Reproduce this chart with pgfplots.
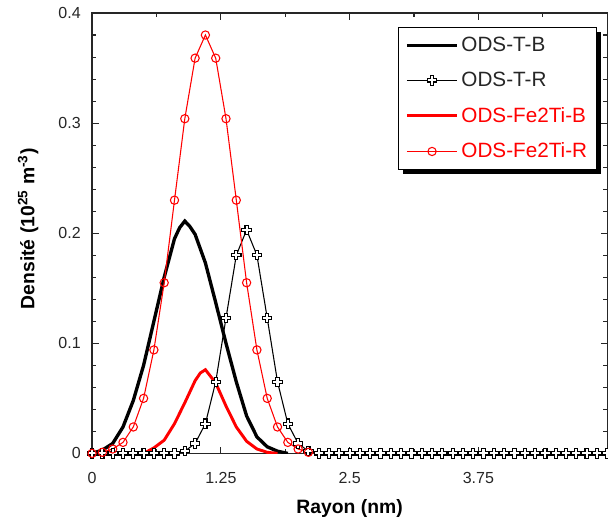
\documentclass[border=0pt]{standalone}
\usepackage{pgfplots}
\pgfplotsset{compat=1.18}
\usepackage{fontspec}
\setmainfont{Liberation Sans}

\pgfdeclareplotmark{gcross}{%
 \pgfpathmoveto{\pgfqpoint{-1.2pt}{3.5pt}}%
 \pgfpathlineto{\pgfqpoint{1.2pt}{3.5pt}}%
 \pgfpathlineto{\pgfqpoint{1.2pt}{1.2pt}}%
 \pgfpathlineto{\pgfqpoint{3.5pt}{1.2pt}}%
 \pgfpathlineto{\pgfqpoint{3.5pt}{-1.2pt}}%
 \pgfpathlineto{\pgfqpoint{1.2pt}{-1.2pt}}%
 \pgfpathlineto{\pgfqpoint{1.2pt}{-3.5pt}}%
 \pgfpathlineto{\pgfqpoint{-1.2pt}{-3.5pt}}%
 \pgfpathlineto{\pgfqpoint{-1.2pt}{-1.2pt}}%
 \pgfpathlineto{\pgfqpoint{-3.5pt}{-1.2pt}}%
 \pgfpathlineto{\pgfqpoint{-3.5pt}{1.2pt}}%
 \pgfpathlineto{\pgfqpoint{-1.2pt}{1.2pt}}%
 \pgfpathclose
 \pgfusepathqfillstroke}

\pgfplotstableread{
x y
0 0
0.1 0.003
0.2 0.009
0.3 0.024
0.4 0.048
0.5 0.080
0.6 0.120
0.7 0.160
0.8 0.195
0.85 0.205
0.9 0.211
0.95 0.206
1.0 0.199
1.1 0.173
1.2 0.137
1.3 0.100
1.4 0.065
1.5 0.034
1.6 0.015
1.7 0.006
1.8 0.002
1.9 0
}\TB

\pgfplotstableread{
x y
0 0
0.1 0
0.2 0
0.3 0
0.4 0
0.5 0
0.6 0
0.7 0
0.8 0
0.9 0.002
1.0 0.009
1.1 0.027
1.2 0.065
1.3 0.123
1.4 0.180
1.5 0.203
1.6 0.180
1.7 0.123
1.8 0.065
1.9 0.027
2.0 0.009
2.1 0.002
2.2 0
2.3 0
2.4 0
2.5 0
2.6 0
2.7 0
2.8 0
2.9 0
3.0 0
3.1 0
3.2 0
3.3 0
3.4 0
3.5 0
3.6 0
3.7 0
3.8 0
3.9 0
4.0 0
4.1 0
4.2 0
4.3 0
4.4 0
4.5 0
4.6 0
4.7 0
4.8 0
4.9 0
5.0 0
}\TR

\pgfplotstableread{
x y
0 0
0.5 0
0.6 0.005
0.7 0.012
0.8 0.027
0.9 0.046
1.0 0.066
1.05 0.073
1.1 0.076
1.2 0.064
1.3 0.043
1.4 0.024
1.5 0.011
1.6 0.004
1.7 0.001
1.8 0
}\FB

\pgfplotstableread{
x y
0 0
0.1 0.001
0.2 0.004
0.3 0.010
0.4 0.024
0.5 0.050
0.6 0.094
0.7 0.155
0.8 0.230
0.9 0.304
1.0 0.359
1.1 0.380
1.2 0.359
1.3 0.304
1.4 0.230
1.5 0.155
1.6 0.094
1.7 0.050
1.8 0.024
1.9 0.010
2.0 0.004
2.1 0.001
2.2 0
2.3 0
2.4 0
2.5 0
2.6 0
2.7 0
2.8 0
2.9 0
3.0 0
3.1 0
3.2 0
3.3 0
3.4 0
3.5 0
3.6 0
3.7 0
3.8 0
3.9 0
4.0 0
4.1 0
4.2 0
4.3 0
4.4 0
4.5 0
4.6 0
4.7 0
4.8 0
4.9 0
5.0 0
}\FR

\begin{document}
\begin{tikzpicture}
\useasboundingbox (-69pt,-52pt) rectangle (386.6pt,339.75pt);
\begin{axis}[
  at={(0,0)}, anchor=south west,
  scale only axis, width=386pt, height=330pt,
  xmin=0, xmax=5, ymin=0, ymax=0.4,
  xtick={0,1.25,2.5,3.75,5},
  xticklabels={0,1.25,2.5,3.75,{}},
  ytick={0,0.1,0.2,0.3,0.4},
  yticklabels={0,0.1,0.2,0.3,0.4},
  minor x tick num=1, minor y tick num=4,
  tick align=inside,
  major tick length=5pt, minor tick length=3pt,
  axis line style={line width=0.9pt, black!85},
  tick style={line width=0.8pt, black!85},
  /pgf/number format/assume math mode=true,
  ticklabel style={font=\fontsize{12}{14}\selectfont, text=black!85},
  xticklabel style={anchor=north, yshift=-11pt},
  yticklabel style={anchor=east, xshift=-5pt},
  xlabel={\textbf{Rayon (nm)}},
  ylabel={\textbf{Densité (10\textsuperscript{25} m\textsuperscript{-3})}},
  label style={font=\fontsize{14.5}{17}\selectfont},
  xlabel style={at={(axis description cs:0.5,-0.124)}, anchor=center},
  ylabel style={at={(axis description cs:-0.1243,0.51)}, anchor=center},
  legend cell align=left,
  legend style={name=L, at={(axis description cs:0.594,0.968)}, anchor=north west,
    draw=black, line width=0.9pt, fill=white,
    font=\fontsize{15.5}{17}\selectfont,
    inner xsep=5pt, inner ysep=5pt, row sep=10pt,
    /tikz/every even column/.append style={column sep=6pt}},
  legend image code/.code={\draw[#1, mark indices={2}] plot coordinates {(0cm,0cm) (0.66cm,0cm) (1.32cm,0cm)};},
]
\addplot[black, line width=2.5pt, no markers] table[x=x,y=y] {\TB};
\addlegendentry{\textcolor{black!85}{ODS-T-B}}
\addplot[black, line width=0.8pt, mark=gcross, mark options={fill=white, line width=0.8pt, solid}] table[x=x,y=y] {\TR};
\addlegendentry{\textcolor{black!85}{ODS-T-R}}
\addplot[red, line width=2.2pt, no markers] table[x=x,y=y] {\FB};
\addlegendentry{\textcolor{red}{ODS-Fe2Ti-B}}
\addplot[red, line width=0.8pt, mark=o, mark size=3.1pt, mark indices={1,...,22}, mark options={line width=0.8pt, solid}] table[x=x,y=y] {\FR};
\addlegendentry{\textcolor{red}{ODS-Fe2Ti-R}}
\end{axis}
\fill[black] ([yshift=-3.5pt]L.north east) rectangle ([xshift=3.2pt,yshift=-3.2pt]L.south east);
\fill[black] ([xshift=3.5pt]L.south west) rectangle ([xshift=3.2pt,yshift=-3.2pt]L.south east);
\end{tikzpicture}
\end{document}
